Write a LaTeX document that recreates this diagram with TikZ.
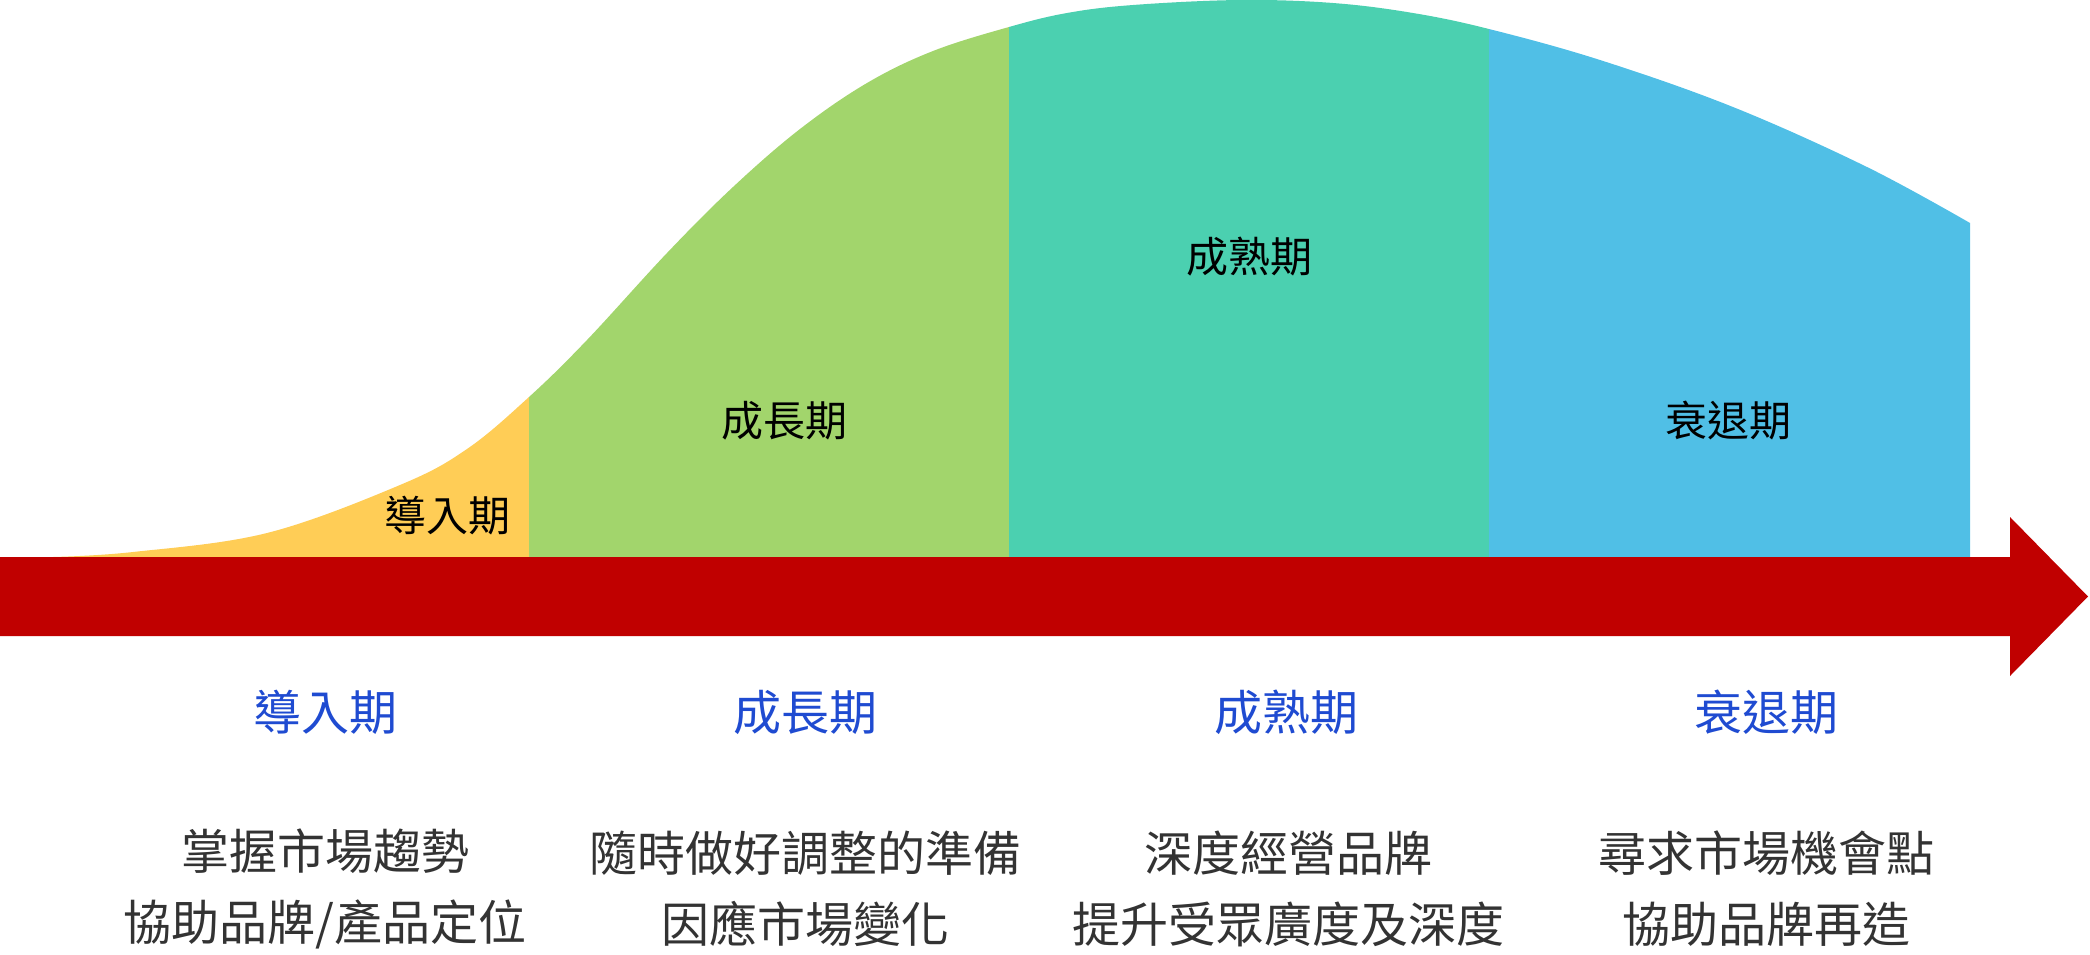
\documentclass[tikz,border=0pt]{standalone}
\usepackage{fontspec}
\setmainfont{Noto Sans CJK TC}

\definecolor{introyellow}{HTML}{FFCD56}
\definecolor{growgreen}{HTML}{A2D56C}
\definecolor{matureteal}{HTML}{4BD0B0}
\definecolor{declineblue}{HTML}{50BFE6}
\definecolor{arrowred}{HTML}{C00000}
\definecolor{stageblue}{HTML}{1F4BD1}
\definecolor{notegray}{HTML}{333333}

\tikzset{
    inlabel/.style={font=\fontsize{21}{24}\selectfont, text=black},
    stagelabel/.style={font=\fontsize{24}{28}\selectfont, text=stageblue},
    notelabel/.style={font=\fontsize{24}{35.5}\selectfont, text=notegray, align=center},
}

\begin{document}
\begin{tikzpicture}[x=0.5pt, y=-0.5pt]
            \def \xstart   {53}
            \def \xintro   {529}
            \def \xgrow    {1009}
            \def \xmature  {1489}
            \def \xdecline {1970}
            \def \xhead    {2010}
            \def \xtip     {2088}

            \def \ybartop  {557}
            \def \ybarbot  {636}
            \def \yheadtop {517}
            \def \yheadbot {676}
            \def \ymid     {596.5}
            \def \ystage   {712}
            \def \ynote    {888.5}

            \useasboundingbox (0,0) rectangle (2090,954);

            \def \lifecurve {plot[smooth, tension=0.6] coordinates {
                (\xstart,\ybartop) (133,552) (267,533) (400,485) (467,449) (\xintro,397)
                (587,340) (667,253) (733,187) (800,129) (867,83) (933,51) (\xgrow,27)
                (1067,13) (1133,5) (1240,0) (1333,3) (1413,13) (\xmature,29)
                (1600,60) (1733,107) (1867,167) (\xdecline,223)}
                -- (\xdecline,\ybartop) -- cycle}

% stage areas
            \begin{scope}
                \clip (0,0) rectangle (\xintro,\ybartop);
                \fill [introyellow] \lifecurve;
            \end{scope}
            \begin{scope}
                \clip (\xintro,0) rectangle (\xgrow,\ybartop);
                \fill [growgreen] \lifecurve;
            \end{scope}
            \begin{scope}
                \clip (\xgrow,0) rectangle (\xmature,\ybartop);
                \fill [matureteal] \lifecurve;
            \end{scope}
            \begin{scope}
                \clip (\xmature,0) rectangle (\xdecline,\ybartop);
                \fill [declineblue] \lifecurve;
            \end{scope}

% time arrow
            \fill [arrowred] (0,\ybartop) -- (\xhead,\ybartop) -- (\xhead,\yheadtop) -- (\xtip,\ymid)
                -- (\xhead,\yheadbot) -- (\xhead,\ybarbot) -- (0,\ybarbot) -- cycle;

% labels inside the areas
            \node [inlabel] (introin)   at (447,516)  {導入期};
            \node [inlabel] (growin)    at (784,421)  {成長期};
            \node [inlabel] (maturein)  at (1249,257) {成熟期};
            \node [inlabel] (declinein) at (1728,421) {衰退期};

% stage names
            \node [stagelabel] (introname)   at (325,\ystage)  {導入期};
            \node [stagelabel] (growname)    at (805,\ystage)  {成長期};
            \node [stagelabel] (maturename)  at (1286,\ystage) {成熟期};
            \node [stagelabel] (declinename) at (1766,\ystage) {衰退期};

% notes
            \node [notelabel] (intronote)   at (325,\ynote)  {掌握市場趨勢\\協助品牌/產品定位};
            \node [notelabel] (grownote)    at (805,\ynote)  {隨時做好調整的準備\\因應市場變化};
            \node [notelabel] (maturenote)  at (1288,\ynote) {深度經營品牌\\提升受眾廣度及深度};
            \node [notelabel] (declinenote) at (1766,\ynote) {尋求市場機會點\\協助品牌再造};

\end{tikzpicture}
\end{document}
